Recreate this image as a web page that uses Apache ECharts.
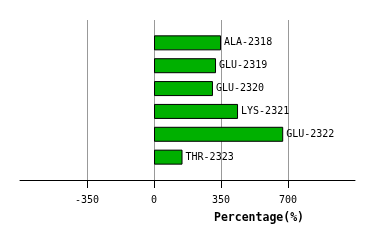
<!DOCTYPE html>
<html><head><meta charset="utf-8">
<script src="https://cdn.jsdelivr.net/npm/echarts@6/dist/echarts.min.js"></script>
<style>html,body{margin:0;padding:0;background:#fff}#c{width:374px;height:241px}</style>
</head><body><div id="c"></div>
<script>
const categories = ['ALA-2318','GLU-2319','GLU-2320','LYS-2321','GLU-2322','THR-2323'];
const values = [350, 324, 308, 439, 675, 149];
const tickValues = [-350, 0, 350, 700];
const axisName = 'Percentage(%)';

const mono = 'DejaVu Sans Mono';
const cats = [''].concat(categories, ['']);
const vals = ['-'].concat(values, ['-']);
const chart = echarts.init(document.getElementById('c'), null, {renderer:'canvas'});
chart.setOption({
  animation: false,
  backgroundColor: '#fff',
  grid: {left: 20, right: 19, top: 20, bottom: 61, containLabel: false},
  title: {text: axisName, left: 209, top: 207,
    textStyle: {fontFamily: mono, fontSize: 11.5, fontWeight: 'bold', color: '#000'}},
  xAxis: {
    type: 'value', min: -700, max: 1050, interval: 350,
    axisLine: {show: true, onZero: false, lineStyle: {color: '#000', width: 1}},
    axisTick: {show: true, length: 8, customValues: tickValues, lineStyle: {color: '#000', width: 1}},
    axisLabel: {show: true, customValues: tickValues, hideOverlap: false,
      margin: 15, lineHeight: 10, fontFamily: mono, fontSize: 10, color: '#000'},
    splitLine: {show: true, lineStyle: {color: '#999', width: 1}}
  },
  yAxis: {
    type: 'category', data: cats, inverse: true, boundaryGap: false,
    axisLine: {show: false}, axisTick: {show: false}, axisLabel: {show: false}, splitLine: {show: false}
  },
  series: [{
    type: 'bar', data: vals, barWidth: 15,
    itemStyle: {color: '#00b000', borderColor: '#000', borderWidth: 1},
    label: {show: true, position: 'right', distance: 3, fontFamily: mono, fontSize: 10, color: '#000',
      formatter: p => cats[p.dataIndex]}
  }]
});
</script></body></html>
